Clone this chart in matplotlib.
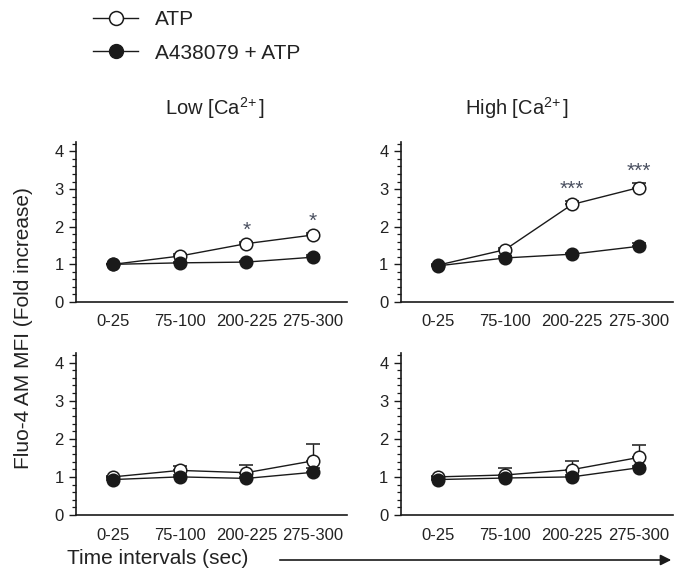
import numpy as np
import matplotlib
matplotlib.use("Agg")
import matplotlib.pyplot as plt
from matplotlib.lines import Line2D
from matplotlib.ticker import MultipleLocator

plt.rcParams['font.family'] = ['Liberation Sans', 'DejaVu Sans']
plt.rcParams['mathtext.fontset'] = 'custom'
plt.rcParams['mathtext.rm'] = 'Liberation Sans'
plt.rcParams['mathtext.it'] = 'Liberation Sans:italic'

TEXT = '#222222'
INK = '#1a1a1a'

# data
intervals = ['0-25', '75-100', '200-225', '275-300']

low_atp = [1.00, 1.22, 1.55, 1.78]
low_atp_err = [0.02, 0.05, 0.05, 0.06]
low_a438 = [1.00, 1.04, 1.06, 1.19]
low_a438_err = [0.02, 0.03, 0.03, 0.06]
low_sig = ['', '', '*', '*']

high_atp = [0.98, 1.39, 2.59, 3.04]
high_atp_err = [0.03, 0.05, 0.08, 0.12]
high_a438 = [0.96, 1.17, 1.27, 1.48]
high_a438_err = [0.02, 0.04, 0.04, 0.08]
high_sig = ['', '', '***', '***']

low2_atp = [1.00, 1.17, 1.11, 1.42]
low2_atp_err = [0.02, 0.12, 0.20, 0.45]
low2_a438 = [0.93, 1.00, 0.96, 1.12]
low2_a438_err = [0.03, 0.04, 0.04, 0.10]

high2_atp = [1.00, 1.05, 1.19, 1.51]
high2_atp_err = [0.02, 0.19, 0.23, 0.32]
high2_a438 = [0.93, 0.97, 1.00, 1.24]
high2_a438_err = [0.02, 0.04, 0.04, 0.05]


def draw_panel(ax, atp, atp_err, a438, a438_err, sig=None):
    x = np.arange(len(intervals))
    for y, err, face in [(atp, atp_err, 'white'), (a438, a438_err, INK)]:
        ax.errorbar(x, y, yerr=[np.zeros(len(err)), err], color=INK, lw=1.0,
                    elinewidth=1.0, capsize=5, capthick=1.0, marker='o',
                    markersize=9, markerfacecolor=face, markeredgecolor=INK,
                    markeredgewidth=1.1, zorder=3)
    if sig:
        for i, s in enumerate(sig):
            if s:
                ax.annotate(s, xy=(i, atp[i] + atp_err[i]), xytext=(0, 4.5),
                            textcoords='offset points', ha='center',
                            va='baseline', fontsize=15, color='#4a5060')
    ax.set_xlim(-0.555, 3.51)
    ax.set_ylim(0, 4.25)
    ax.set_xticks(x)
    ax.set_xticklabels(intervals)
    ax.set_yticks([0, 1, 2, 3, 4])
    ax.yaxis.set_minor_locator(MultipleLocator(0.2))
    ax.spines['top'].set_visible(False)
    ax.spines['right'].set_visible(False)
    for s in ['left', 'bottom']:
        ax.spines[s].set_linewidth(1.2)
        ax.spines[s].set_color(INK)
    ax.tick_params(axis='x', length=0, pad=9, labelsize=12, labelcolor=TEXT)
    ax.tick_params(axis='y', which='major', length=5, width=1.0, pad=4,
                   labelsize=12, labelcolor=TEXT, color=INK)
    ax.tick_params(axis='y', which='minor', length=3, width=0.9, color=INK)


fig = plt.figure(figsize=(6.76, 5.73), dpi=100)
W, H = 676.0, 573.0

def px_axes(l, t, r, b):
    return fig.add_axes([l / W, 1 - b / H, (r - l) / W, (b - t) / H])

ax1 = px_axes(76, 142, 347, 302)
ax2 = px_axes(401, 142, 673, 302)
ax3 = px_axes(76, 353, 347, 515)
ax4 = px_axes(401, 353, 673, 515)

draw_panel(ax1, low_atp, low_atp_err, low_a438, low_a438_err, low_sig)
draw_panel(ax2, high_atp, high_atp_err, high_a438, high_a438_err, high_sig)
draw_panel(ax3, low2_atp, low2_atp_err, low2_a438, low2_a438_err)
draw_panel(ax4, high2_atp, high2_atp_err, high2_a438, high2_a438_err)

fig.text(215 / W, 1 - 108 / H, r'Low [Ca$^{2\!+}$]', ha='center', va='center',
         fontsize=14.5, color=TEXT)
fig.text(517 / W, 1 - 108 / H, r'High [Ca$^{2\!+}$]', ha='center', va='center',
         fontsize=14.5, color=TEXT)

fig.text(24 / W, 1 - 328 / H, 'Fluo-4 AM MFI (Fold increase)', rotation=90,
         ha='center', va='center', fontsize=15, color=TEXT)

fig.text(67 / W, 1 - 558 / H, 'Time intervals (sec)', ha='left', va='center',
         fontsize=15, color=TEXT)
fig.add_artist(matplotlib.patches.FancyArrowPatch(
    (277 / W, 1 - 560 / H), (674 / W, 1 - 560 / H), transform=fig.transFigure,
    arrowstyle='-|>', mutation_scale=16, lw=1.2, color=INK))

handles = [
    Line2D([], [], color=INK, lw=1.0, marker='o', markersize=10,
           markerfacecolor='white', markeredgecolor=INK, markeredgewidth=1.1),
    Line2D([], [], color=INK, lw=1.0, marker='o', markersize=10,
           markerfacecolor=INK, markeredgecolor=INK),
]
fig.legend(handles, ['ATP', 'A438079 + ATP'], loc='upper left',
           bbox_to_anchor=(93 / W, 1 - 10 / H), frameon=False, fontsize=15,
           handlelength=2.17, handletextpad=0.8, labelspacing=0.7,
           borderpad=0, borderaxespad=0, labelcolor=TEXT)

fig.savefig('out.png', dpi=100)
